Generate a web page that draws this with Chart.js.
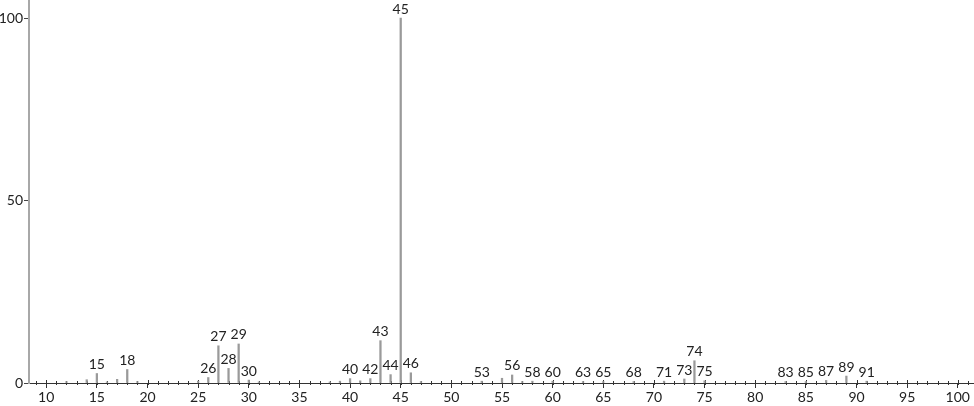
<!DOCTYPE html>
<html>
<head>
<meta charset="utf-8">
<script src="https://cdn.jsdelivr.net/npm/chart.js@4.4.1/dist/chart.umd.min.js"></script>
<style>
    html, body { margin: 0; padding: 0; background: #ffffff; }
    #wrap { position: relative; width: 974px; height: 406px; }
</style>
</head>
<body>
<div id="wrap"><canvas id="espectro"></canvas></div>
<script>
const masas = [12, 14, 15, 16, 17, 18, 19, 25, 26, 27, 28, 29, 30, 31, 38, 39, 40, 41, 42, 43, 44, 45, 46, 47, 53, 55, 56, 57, 58, 60, 63, 65, 68, 71, 73, 74, 75, 83, 85, 87, 89, 91];
const abundancias = [0.4, 0.9, 2.6, 0.3, 1.0, 3.7, 0.4, 0.5, 1.5, 10.2, 4.0, 10.7, 0.8, 0.3, 0.3, 0.5, 1.2, 0.6, 1.2, 11.6, 2.3, 100, 2.8, 0.4, 0.5, 1.3, 2.2, 0.4, 0.5, 0.5, 0.4, 0.4, 0.4, 0.5, 1.1, 6.1, 0.6, 0.4, 0.4, 0.7, 1.9, 0.5];
// picos con etiqueta
const etiquetados = [15, 18, 26, 27, 28, 29, 30, 40, 42, 43, 44, 45, 46, 53, 56, 58, 60, 63, 65, 68, 71, 73, 74, 75, 83, 85, 87, 89, 91];
const ticksX = [10, 15, 20, 25, 30, 35, 40, 45, 50, 55, 60, 65, 70, 75, 80, 85, 90, 95, 100];
const ticksY = [0, 50, 100];

const fuente = '"Lato", "DejaVu Sans", sans-serif';

// marcas menores del eje x y etiquetas de los picos
const etiquetasPicos = {
    id: 'etiquetasPicos',
    beforeDatasetsDraw(chart) {
        const ctx = chart.ctx;
        const x = chart.scales.x;
        const y0 = chart.chartArea.bottom;
        ctx.save();
        ctx.strokeStyle = '#333';
        ctx.lineWidth = 1;
        for (let m = 9; m <= 101; m++) {
            const px = Math.round(x.getPixelForValue(m)) + 0.5;
            const arriba = (m % 5 === 0) ? 3 : 2;
            ctx.beginPath();
            ctx.moveTo(px, y0 - arriba);
            ctx.lineTo(px, y0 + 2);
            ctx.stroke();
        }
        ctx.restore();
    },
    afterDatasetsDraw(chart) {
        const ctx = chart.ctx;
        const x = chart.scales.x;
        const y = chart.scales.y;
        ctx.save();
        ctx.font = '14px ' + fuente;
        ctx.fillStyle = '#222';
        ctx.textAlign = 'center';
        ctx.textBaseline = 'bottom';
        etiquetados.forEach(m => {
            const i = masas.indexOf(m);
            if (i < 0) return;
            const px = x.getPixelForValue(m);
            const py = y.getPixelForValue(abundancias[i]);
            ctx.fillText(String(m), px, py - 2);
        });
        ctx.restore();
    }
};

new Chart(document.getElementById('espectro'), {
    type: 'bar',
    data: {
        datasets: [{
            data: masas.map((m, i) => ({ x: m, y: abundancias[i] })),
            backgroundColor: '#9a9a9a',
            borderWidth: 0,
            barThickness: 1.6
        }]
    },
    options: {
        responsive: true,
        maintainAspectRatio: false,
        animation: false,
        layout: { padding: { top: 1, right: 0, left: 0, bottom: 0 } },
        plugins: {
            legend: { display: false },
            tooltip: { enabled: false }
        },
        scales: {
            x: {
                type: 'linear',
                min: 8.3,
                max: 101.6,
                offset: false,
                afterBuildTicks: s => { s.ticks = ticksX.map(v => ({ value: v })); },
                afterFit: s => { s.height = 23; s.paddingLeft = 0; s.paddingRight = 0; },
                grid: {
                    offset: false,
                    drawOnChartArea: false,
                    drawTicks: true,
                    tickLength: 5,
                    tickColor: '#333'
                },
                border: { color: '#333', width: 1 },
                ticks: {
                    font: { family: fuente, size: 14 },
                    color: '#222',
                    padding: 1,
                    maxRotation: 0,
                    autoSkip: false
                }
            },
            y: {
                min: 0,
                max: 104.7,
                afterBuildTicks: s => { s.ticks = ticksY.map(v => ({ value: v })); },
                afterFit: s => { s.width = 29; s.paddingTop = 0; s.paddingBottom = 0; },
                grid: {
                    drawOnChartArea: false,
                    drawTicks: true,
                    tickLength: 5,
                    tickColor: '#444'
                },
                border: { color: '#a8a8a8', width: 2 },
                ticks: {
                    font: { family: fuente, size: 14 },
                    color: '#222',
                    padding: 1
                }
            }
        }
    },
    plugins: [etiquetasPicos]
});
</script>
</body>
</html>
